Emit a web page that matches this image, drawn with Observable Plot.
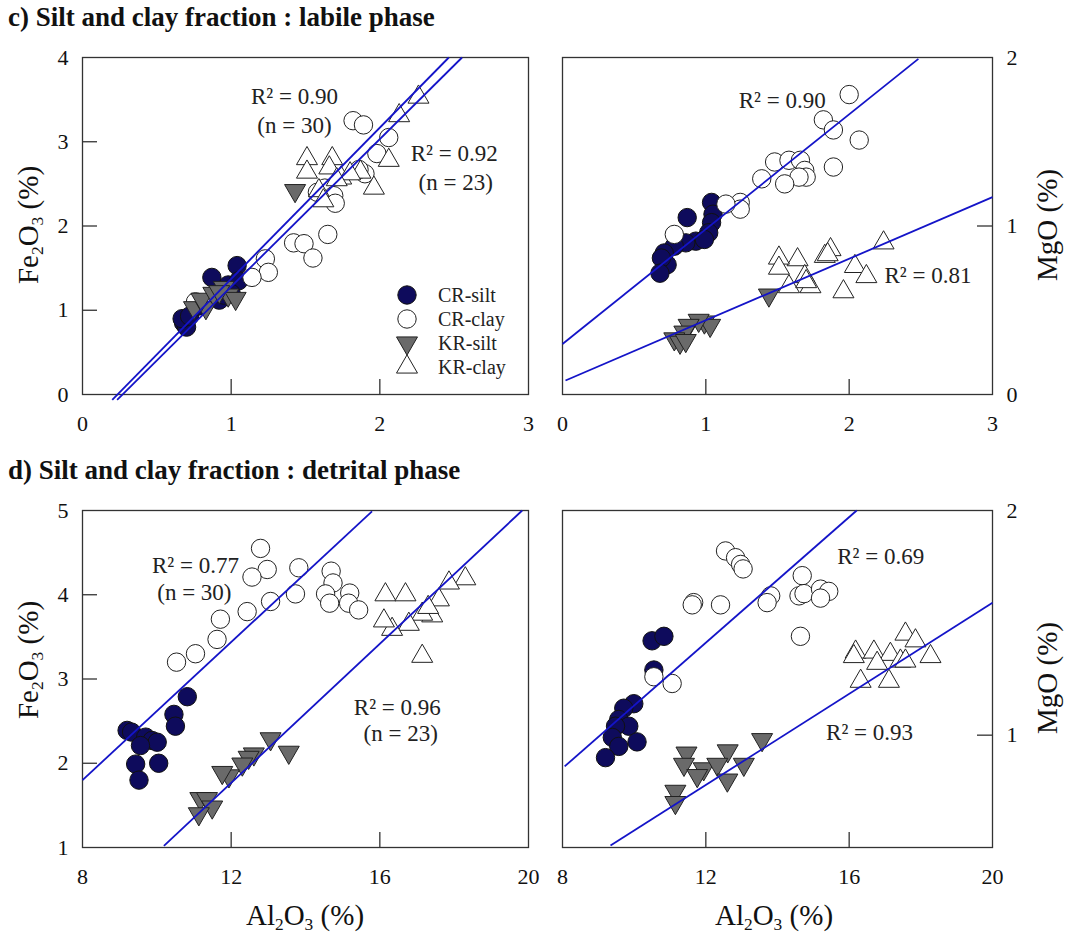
<!DOCTYPE html>
<html>
<head>
<meta charset="utf-8">
<script src="https://cdn.jsdelivr.net/npm/d3@7"></script>
<script src="https://cdn.jsdelivr.net/npm/@observablehq/plot@0.6"></script>
<style>
  body { margin: 0; background: #fff; }
  #root { position: relative; width: 1084px; height: 935px; overflow: hidden;
          font-family: "Liberation Serif", "Times New Roman", serif; color: #111; }
  .abs { position: absolute; white-space: nowrap; line-height: 1; }
  .title { font-weight: bold; font-size: 27px; }
  .lab { font-size: 29px; }
  .lab sub { font-size: 0.6em; vertical-align: -0.3em; }
  .rot { transform: translate(-50%, -50%) rotate(-90deg); }
  .ctr { transform: translate(-50%, -50%); }
</style>
</head>
<body>
<div id="root"></div>
<script>
// ---------------- DATA ----------------
const seriesNames = ["CR-silt", "CR-clay", "KR-silt", "KR-clay"];

// c) labile phase : Fe2O3 vs Al2O3
const labFe_CRsilt = [[0.68,0.85],[0.70,0.80],[0.67,0.90],[0.72,0.93],[0.78,1.05],[0.87,1.39],[0.92,1.12],[0.95,1.18],[0.98,1.30],[1.04,1.53],[1.05,1.35],[1.00,1.20]];
const labFe_CRclay = [[1.82,3.25],[1.89,3.20],[2.06,3.05],[1.98,2.86],[1.90,2.62],[1.86,2.67],[1.58,2.40],[1.63,2.45],[1.69,2.36],[1.70,2.27],[1.65,1.90],[1.42,1.80],[1.49,1.79],[1.55,1.62],[1.23,1.61],[1.25,1.45],[1.14,1.39],[0.76,1.10]];
const labFe_KRsilt = [[1.43,2.42],[0.75,1.03],[0.83,1.03],[0.80,1.13],[0.88,1.20],[0.95,1.27],[0.98,1.18],[1.03,1.14],[0.92,1.22]];
const labFe_KRclay = [[2.26,3.53],[2.13,3.31],[1.51,2.80],[1.51,2.64],[1.68,2.80],[1.66,2.69],[1.74,2.57],[1.87,2.64],[2.06,2.78],[1.96,2.45],[1.59,2.42],[1.80,2.62],[1.62,2.30],[1.71,2.55]];
const labFe_lines = [[0.20,-0.063,2.464,4],[0.233,-0.063,2.553,4]];
const labFe_notes = [["R² = 0.90",1.426,3.53],["(n = 30)",1.426,3.19],["R² = 0.92",2.50,2.86],["(n = 23)",2.51,2.52]];

// c) labile phase : MgO vs Al2O3
const labMg_CRsilt = [[1.04,1.14],[0.87,1.05],[1.05,1.07],[1.04,1.02],[1.02,0.96],[0.93,0.91],[0.99,0.92],[0.86,0.90],[0.78,0.88],[0.71,0.84],[0.73,0.77],[0.69,0.81],[0.68,0.72]];
const labMg_CRclay = [[2.00,1.78],[1.82,1.63],[1.89,1.57],[2.07,1.51],[1.89,1.35],[1.48,1.38],[1.58,1.39],[1.66,1.39],[1.69,1.33],[1.70,1.29],[1.65,1.29],[1.55,1.25],[1.39,1.28],[1.24,1.14],[1.24,1.10],[1.14,1.13],[0.78,0.95]];
const labMg_KRsilt = [[1.44,0.59],[0.99,0.43],[1.03,0.41],[0.95,0.44],[0.88,0.41],[0.85,0.37],[0.78,0.33],[0.82,0.31],[0.86,0.32]];
const labMg_KRclay = [[2.24,0.90],[1.87,0.86],[1.83,0.82],[1.64,0.80],[1.51,0.81],[1.51,0.75],[2.04,0.76],[2.12,0.70],[1.69,0.70],[1.58,0.64],[1.73,0.64],[1.96,0.61],[1.70,0.67],[1.85,0.83]];
const labMg_lines = [[0,0.30,2.483,1.992],[0.021,0.083,3,1.171]];
const labMg_notes = [["R² = 0.90",1.533,1.745],["R² = 0.81",2.55,0.706]];

// d) detrital phase : Fe2O3 vs Al2O3
const detFe_CRsilt = [[10.82,2.79],[10.46,2.58],[10.50,2.44],[9.20,2.39],[9.32,2.37],[9.70,2.31],[9.87,2.27],[10.01,2.25],[9.56,2.21],[9.43,1.99],[10.05,2.00],[9.52,1.80]];
const detFe_CRclay = [[12.79,4.55],[12.97,4.30],[12.56,4.21],[13.82,4.32],[13.73,4.01],[13.06,3.92],[12.43,3.80],[11.71,3.71],[11.62,3.47],[11.04,3.30],[10.53,3.20],[14.69,4.28],[14.74,4.14],[14.54,4.01],[14.65,3.90],[15.19,4.02],[15.16,3.90],[15.43,3.82]];
const detFe_KRsilt = [[13.06,2.29],[13.55,2.13],[12.61,2.11],[12.47,2.07],[12.30,1.99],[11.94,1.85],[11.76,1.89],[11.17,1.58],[11.35,1.58],[11.49,1.48],[11.13,1.40]];
const detFe_KRclay = [[18.30,4.19],[17.86,4.14],[17.59,3.94],[17.41,3.75],[17.14,3.77],[17.14,3.27],[16.78,3.65],[16.33,3.59],[16.11,3.69],[16.15,4.00],[16.69,4.00],[17.30,3.85]];
const detFe_lines = [[8,1.80,15.79,4.99],[10.19,1.02,19.83,5.0]];
const detFe_notes = [["R² = 0.77",11.04,4.34],["(n = 30)",11.01,4.02],["R² = 0.96",16.47,2.66],["(n = 23)",16.56,2.35]];

// d) detrital phase : MgO vs Al2O3
const detMg_CRsilt = [[10.50,1.42],[10.83,1.44],[10.55,1.29],[9.99,1.14],[9.71,1.12],[9.57,1.07],[9.85,1.04],[9.48,1.04],[9.39,0.99],[10.08,0.97],[9.57,0.95],[9.20,0.90]];
const detMg_CRclay = [[12.55,1.82],[12.83,1.79],[12.97,1.76],[13.04,1.74],[11.66,1.59],[11.62,1.58],[12.41,1.58],[13.81,1.62],[13.71,1.59],[14.69,1.71],[14.60,1.62],[14.74,1.63],[15.20,1.65],[15.43,1.64],[15.20,1.61],[14.64,1.44],[10.55,1.26],[11.06,1.23]];
const detMg_KRsilt = [[13.57,0.98],[12.61,0.93],[11.46,0.92],[11.39,0.87],[11.94,0.85],[12.32,0.87],[13.06,0.87],[11.76,0.82],[12.60,0.80],[11.15,0.75],[11.15,0.70]];
const detMg_KRclay = [[17.57,1.45],[17.85,1.42],[18.27,1.35],[16.18,1.37],[16.13,1.35],[16.69,1.37],[17.15,1.36],[16.78,1.32],[17.43,1.33],[17.57,1.33],[16.32,1.24],[17.11,1.24]];
const detMg_lines = [[8.06,0.861,16.21,2.0],[9.34,0.509,20,1.589]];
const detMg_notes = [["R² = 0.69",16.88,1.793],["R² = 0.93",16.57,1.013]];

// tick labels
const labXTicks = [0, 1, 2, 3];
const labFeTicks = [0, 1, 2, 3, 4];
const labMgTicks = [0, 1, 2];
const detXTicks = [8, 12, 16, 20];
const detFeTicks = [1, 2, 3, 4, 5];
const detMgTicks = [1, 2];

// ---------------- STYLE ----------------
const NAVY = "#0e0b5c", GREY = "#6a6a6a", EDGE = "#222", BLUE = "#1414c8", FRAME = "#333";
const FONT = "'Liberation Serif', 'Times New Roman', serif";

const s3 = Math.sqrt(3);
const triUp = { draw(ctx, size) { const y = Math.sqrt(size / (s3 * 3)); ctx.moveTo(0, -2 * y); ctx.lineTo(s3 * y, y); ctx.lineTo(-s3 * y, y); ctx.closePath(); } };
const triDown = { draw(ctx, size) { const y = Math.sqrt(size / (s3 * 3)); ctx.moveTo(0, 2 * y); ctx.lineTo(s3 * y, -y); ctx.lineTo(-s3 * y, -y); ctx.closePath(); } };

const seriesStyle = [
  { symbol: "circle", r: 9.2, fill: NAVY, stroke: "#111" },
  { symbol: "circle", r: 9.2, fill: "#fff", stroke: EDGE },
  { symbol: triDown, r: 7.8, fill: GREY, stroke: EDGE },
  { symbol: triUp, r: 7.8, fill: "#fff", stroke: EDGE }
];

const root = document.getElementById("root");
const fmt = d => String(d);

function panel(cfg) {
  const { left, top, width, height, m, xDomain, yDomain, xTicks, yTicks, yAnchor, series, lines, notes } = cfg;
  const W = width - m[3] - m[1], H = height - m[0] - m[2];
  const xInner = xTicks.slice(1, -1);
  const yInner = yTicks.filter(v => v > yDomain[0] && v < yDomain[1]);
  const marks = [
    Plot.frame({ stroke: FRAME, strokeWidth: 1.3 }),
    Plot.axisX(xTicks, { tickSize: 0, tickPadding: 21, label: null, fontSize: 22, fontFamily: FONT, tickFormat: fmt, fill: "#111" }),
    Plot.axisY(yTicks, { anchor: yAnchor, tickSize: 0, tickPadding: 14, label: null, fontSize: 22, fontFamily: FONT, tickFormat: fmt, fill: "#111" }),
    Plot.tickX(xInner, { x: d => d, insetTop: H - 15, stroke: FRAME, strokeWidth: 1.3 }),
    yAnchor === "left"
      ? Plot.tickY(yInner, { y: d => d, insetRight: W - 15, stroke: FRAME, strokeWidth: 1.3 })
      : Plot.tickY(yInner, { y: d => d, insetLeft: W - 15, stroke: FRAME, strokeWidth: 1.3 })
  ];
  series.forEach((data, i) => {
    const st = seriesStyle[i];
    marks.push(Plot.dot(data, { x: d => d[0], y: d => d[1], symbol: st.symbol, r: st.r, fill: st.fill, stroke: st.stroke, strokeWidth: 1 }));
  });
  marks.push(Plot.link(lines, { x1: d => d[0], y1: d => d[1], x2: d => d[2], y2: d => d[3], stroke: BLUE, strokeWidth: 1.8 }));
  marks.push(Plot.text(notes, { x: d => d[1], y: d => d[2], text: d => d[0], fontSize: 23, fontFamily: FONT, fill: "#222" }));
  const svg = Plot.plot({
    width, height,
    marginTop: m[0], marginRight: m[1], marginBottom: m[2], marginLeft: m[3],
    x: { domain: xDomain },
    y: { domain: yDomain },
    style: { fontFamily: FONT, fontSize: "22px", background: "transparent", overflow: "visible", color: "#111" },
    marks
  });
  svg.style.position = "absolute";
  svg.style.left = left + "px";
  svg.style.top = top + "px";
  root.appendChild(svg);
}

panel({ left: 0, top: 0, width: 545, height: 455, m: [57, 17, 61, 82], xDomain: [0, 3], yDomain: [0, 4],
  xTicks: labXTicks, yTicks: labFeTicks, yAnchor: "left",
  series: [labFe_CRsilt, labFe_CRclay, labFe_KRsilt, labFe_KRclay], lines: labFe_lines, notes: labFe_notes });
panel({ left: 545, top: 0, width: 539, height: 455, m: [57, 92, 61, 17], xDomain: [0, 3], yDomain: [0, 2],
  xTicks: labXTicks, yTicks: labMgTicks, yAnchor: "right",
  series: [labMg_CRsilt, labMg_CRclay, labMg_KRsilt, labMg_KRclay], lines: labMg_lines, notes: labMg_notes });
panel({ left: 0, top: 455, width: 545, height: 480, m: [55, 17, 88, 82], xDomain: [8, 20], yDomain: [1, 5],
  xTicks: detXTicks, yTicks: detFeTicks, yAnchor: "left",
  series: [detFe_CRsilt, detFe_CRclay, detFe_KRsilt, detFe_KRclay], lines: detFe_lines, notes: detFe_notes });
panel({ left: 545, top: 455, width: 539, height: 480, m: [55, 92, 88, 17], xDomain: [8, 20], yDomain: [0.5, 2],
  xTicks: detXTicks, yTicks: detMgTicks, yAnchor: "right",
  series: [detMg_CRsilt, detMg_CRclay, detMg_KRsilt, detMg_KRclay], lines: detMg_lines, notes: detMg_notes });

// ---------------- TEXT ----------------
function addDiv(html, cls, left, top) {
  const d = document.createElement("div");
  d.className = "abs " + cls;
  d.innerHTML = html;
  d.style.left = left + "px";
  d.style.top = top + "px";
  root.appendChild(d);
}
addDiv("c) Silt and clay fraction : labile phase", "title", 8, 4);
addDiv("d) Silt and clay fraction : detrital phase", "title", 8, 457);
addDiv("Fe<sub>2</sub>O<sub>3</sub> (%)", "lab rot", 30, 225);
addDiv("Fe<sub>2</sub>O<sub>3</sub> (%)", "lab rot", 30, 660);
addDiv("MgO (%)", "lab rot", 1047, 225);
addDiv("MgO (%)", "lab rot", 1047, 678);
addDiv("Al<sub>2</sub>O<sub>3</sub> (%)", "lab ctr", 305, 917);
addDiv("Al<sub>2</sub>O<sub>3</sub> (%)", "lab ctr", 774, 917);

// ---------------- LEGEND ----------------
const leg = d3.select(root).append("svg")
  .attr("width", 120).attr("height", 100)
  .style("position", "absolute").style("left", "390px").style("top", "282px")
  .style("overflow", "visible");
seriesNames.forEach((name, i) => {
  const st = seriesStyle[i];
  const cy = 13 + i * 24;
  const type = st.symbol === "circle" ? d3.symbolCircle : st.symbol;
  leg.append("path")
    .attr("d", d3.symbol(type, Math.PI * st.r * st.r)())
    .attr("transform", `translate(17,${cy})`)
    .attr("fill", st.fill).attr("stroke", st.stroke).attr("stroke-width", 1);
  leg.append("text").attr("x", 48).attr("y", cy + 7)
    .attr("font-family", FONT).attr("font-size", 20).attr("fill", "#222")
    .text(name);
});
</script>
</body>
</html>
